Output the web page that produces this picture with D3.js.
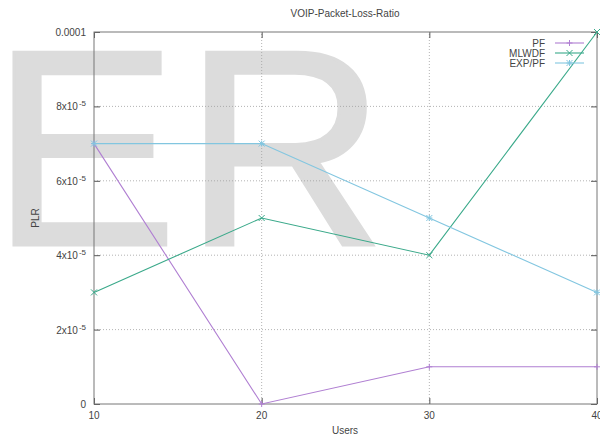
<!DOCTYPE html>
<html>
<head>
<meta charset="utf-8">
<script src="https://cdn.jsdelivr.net/npm/d3@7"></script>
<style>
  html, body { margin: 0; padding: 0; background: #fff; }
  svg { display: block; }
</style>
</head>
<body>
<svg id="chart" width="600" height="435"></svg>
<script>
// Number of users on the x axis
const users = [10, 20, 30, 40];
// Packet loss ratio for each scheduler
const pfValues    = [7e-5, 0, 1e-5, 1e-5];
const mlwdfValues = [3e-5, 5e-5, 4e-5, 1e-4];
const expPfValues = [7e-5, 7e-5, 5e-5, 3e-5];
const seriesNames = ["PF", "MLWDF", "EXP/PF"];
// Y tick values and their labels (mantissa, exponent)
const yTicks = [0, 2e-5, 4e-5, 6e-5, 8e-5, 1e-4];
const yTickLabels = [["0", null], ["2x10", "-5"], ["4x10", "-5"], ["6x10", "-5"], ["8x10", "-5"], ["0.0001", null]];

const series = [
  { name: seriesNames[0], values: pfValues,    color: "#b07fd2", marker: "plus" },
  { name: seriesNames[1], values: mlwdfValues, color: "#3aa98a", marker: "cross" },
  { name: seriesNames[2], values: expPfValues, color: "#82c6e0", marker: "star" }
];

const svg = d3.select("#chart");
const font = "'Liberation Sans', Arial, sans-serif";
const margin = { left: 94, right: 3, top: 32, bottom: 31 };
const W = 600, H = 435;

// Large background watermark
svg.append("text")
  .attr("x", -9).attr("y", 245)
  .attr("font-family", font)
  .attr("font-size", 280)
  .attr("letter-spacing", 6)
  .attr("fill", "#dcdcdc")
  .attr("stroke", "#dcdcdc")
  .attr("stroke-width", 3)
  .attr("stroke-linejoin", "miter")
  .text("ER");

const x = d3.scaleLinear().domain([10, 40]).range([margin.left, W - margin.right]);
const y = d3.scaleLinear().domain([0, 1e-4]).range([H - margin.bottom, margin.top]);

const g = svg.append("g");

// Dotted grid
g.append("g").selectAll("line").data(yTicks.slice(1, -1)).join("line")
  .attr("x1", x.range()[0]).attr("x2", x.range()[1])
  .attr("y1", d => y(d)).attr("y2", d => y(d))
  .attr("stroke", "#a0a0a0").attr("stroke-width", 0.8).attr("stroke-dasharray", "1,2");
g.append("g").selectAll("line").data(users.slice(1, -1)).join("line")
  .attr("x1", d => x(d)).attr("x2", d => x(d))
  .attr("y1", y.range()[0]).attr("y2", y.range()[1])
  .attr("stroke", "#a0a0a0").attr("stroke-width", 0.8).attr("stroke-dasharray", "1,2");

// Axes with inward ticks, tick labels drawn separately
const yAxisL = d3.axisLeft(y).tickValues(yTicks).tickSizeInner(-6).tickSizeOuter(0).tickFormat("");
const yAxisR = d3.axisRight(y).tickValues(yTicks).tickSizeInner(-6).tickSizeOuter(0).tickFormat("");
const xAxisB = d3.axisBottom(x).tickValues(users).tickSizeInner(-6).tickSizeOuter(0).tickFormat("");
const xAxisT = d3.axisTop(x).tickValues(users).tickSizeInner(-6).tickSizeOuter(0).tickFormat("");
[
  [yAxisL, `translate(${x.range()[0]},0)`],
  [yAxisR, `translate(${x.range()[1]},0)`],
  [xAxisB, `translate(0,${y.range()[0]})`],
  [xAxisT, `translate(0,${y.range()[1]})`]
].forEach(([ax, tr]) => {
  const a = g.append("g").attr("transform", tr).call(ax);
  a.select(".domain").remove();
  a.selectAll("line").attr("stroke", "#555").attr("stroke-width", 1);
});

// Plot border
g.append("rect")
  .attr("x", x.range()[0]).attr("y", y.range()[1])
  .attr("width", x.range()[1] - x.range()[0])
  .attr("height", y.range()[0] - y.range()[1])
  .attr("fill", "none").attr("stroke", "#777").attr("stroke-width", 1);

// Y tick labels
const yl = g.append("g").selectAll("text").data(yTicks).join("text")
  .attr("x", 86).attr("y", d => y(d) + 4)
  .attr("text-anchor", "end")
  .attr("font-family", font).attr("font-size", 10).attr("fill", "#444");
yl.each(function(d, i) {
  const [m, e] = yTickLabels[i];
  const t = d3.select(this);
  t.append("tspan").text(m);
  if (e) t.append("tspan").attr("dy", -4).attr("dx", 1).attr("font-size", 8).text(e);
});

// X tick labels
g.append("g").selectAll("text").data(users).join("text")
  .attr("x", d => x(d)).attr("y", 419)
  .attr("text-anchor", "middle")
  .attr("font-family", font).attr("font-size", 10).attr("fill", "#444")
  .text(d => d);

// Axis titles and chart title
svg.append("text").attr("x", 345).attr("y", 434)
  .attr("text-anchor", "middle").attr("font-family", font).attr("font-size", 10).attr("fill", "#444")
  .text("Users");
svg.append("text").attr("transform", "translate(39,218) rotate(-90)")
  .attr("text-anchor", "middle").attr("font-family", font).attr("font-size", 10).attr("fill", "#444")
  .text("PLR");
svg.append("text").attr("x", 345).attr("y", 17)
  .attr("text-anchor", "middle").attr("font-family", font).attr("font-size", 10).attr("fill", "#444")
  .text("VOIP-Packet-Loss-Ratio");

// Marker shapes
function drawMarker(sel, type, cx, cy, color) {
  const s = 3;
  const segs = [];
  if (type === "plus" || type === "star") segs.push([-s, 0, s, 0], [0, -s, 0, s]);
  if (type === "cross" || type === "star") segs.push([-s, -s, s, s], [-s, s, s, -s]);
  segs.forEach(([a, b, c, d]) => sel.append("line")
    .attr("x1", cx + a).attr("y1", cy + b).attr("x2", cx + c).attr("y2", cy + d)
    .attr("stroke", color).attr("stroke-width", 1));
}

// Lines and points
const line = d3.line().x((d, i) => x(users[i])).y(d => y(d));
series.forEach(s => {
  const sg = g.append("g");
  sg.append("path").datum(s.values).attr("d", line)
    .attr("fill", "none").attr("stroke", s.color).attr("stroke-width", 1.1);
  s.values.forEach((v, i) => drawMarker(sg, s.marker, x(users[i]), y(v), s.color));
});

// Legend
const lg = svg.append("g");
series.forEach((s, i) => {
  const ly = 43 + i * 10;
  lg.append("text").attr("x", 545).attr("y", ly + 3.5)
    .attr("text-anchor", "end").attr("font-family", font).attr("font-size", 10).attr("fill", "#444")
    .text(s.name);
  lg.append("line").attr("x1", 555).attr("x2", 584).attr("y1", ly).attr("y2", ly)
    .attr("stroke", s.color).attr("stroke-width", 1.1);
  drawMarker(lg, s.marker, 569.5, ly, s.color);
});
</script>
</body>
</html>
